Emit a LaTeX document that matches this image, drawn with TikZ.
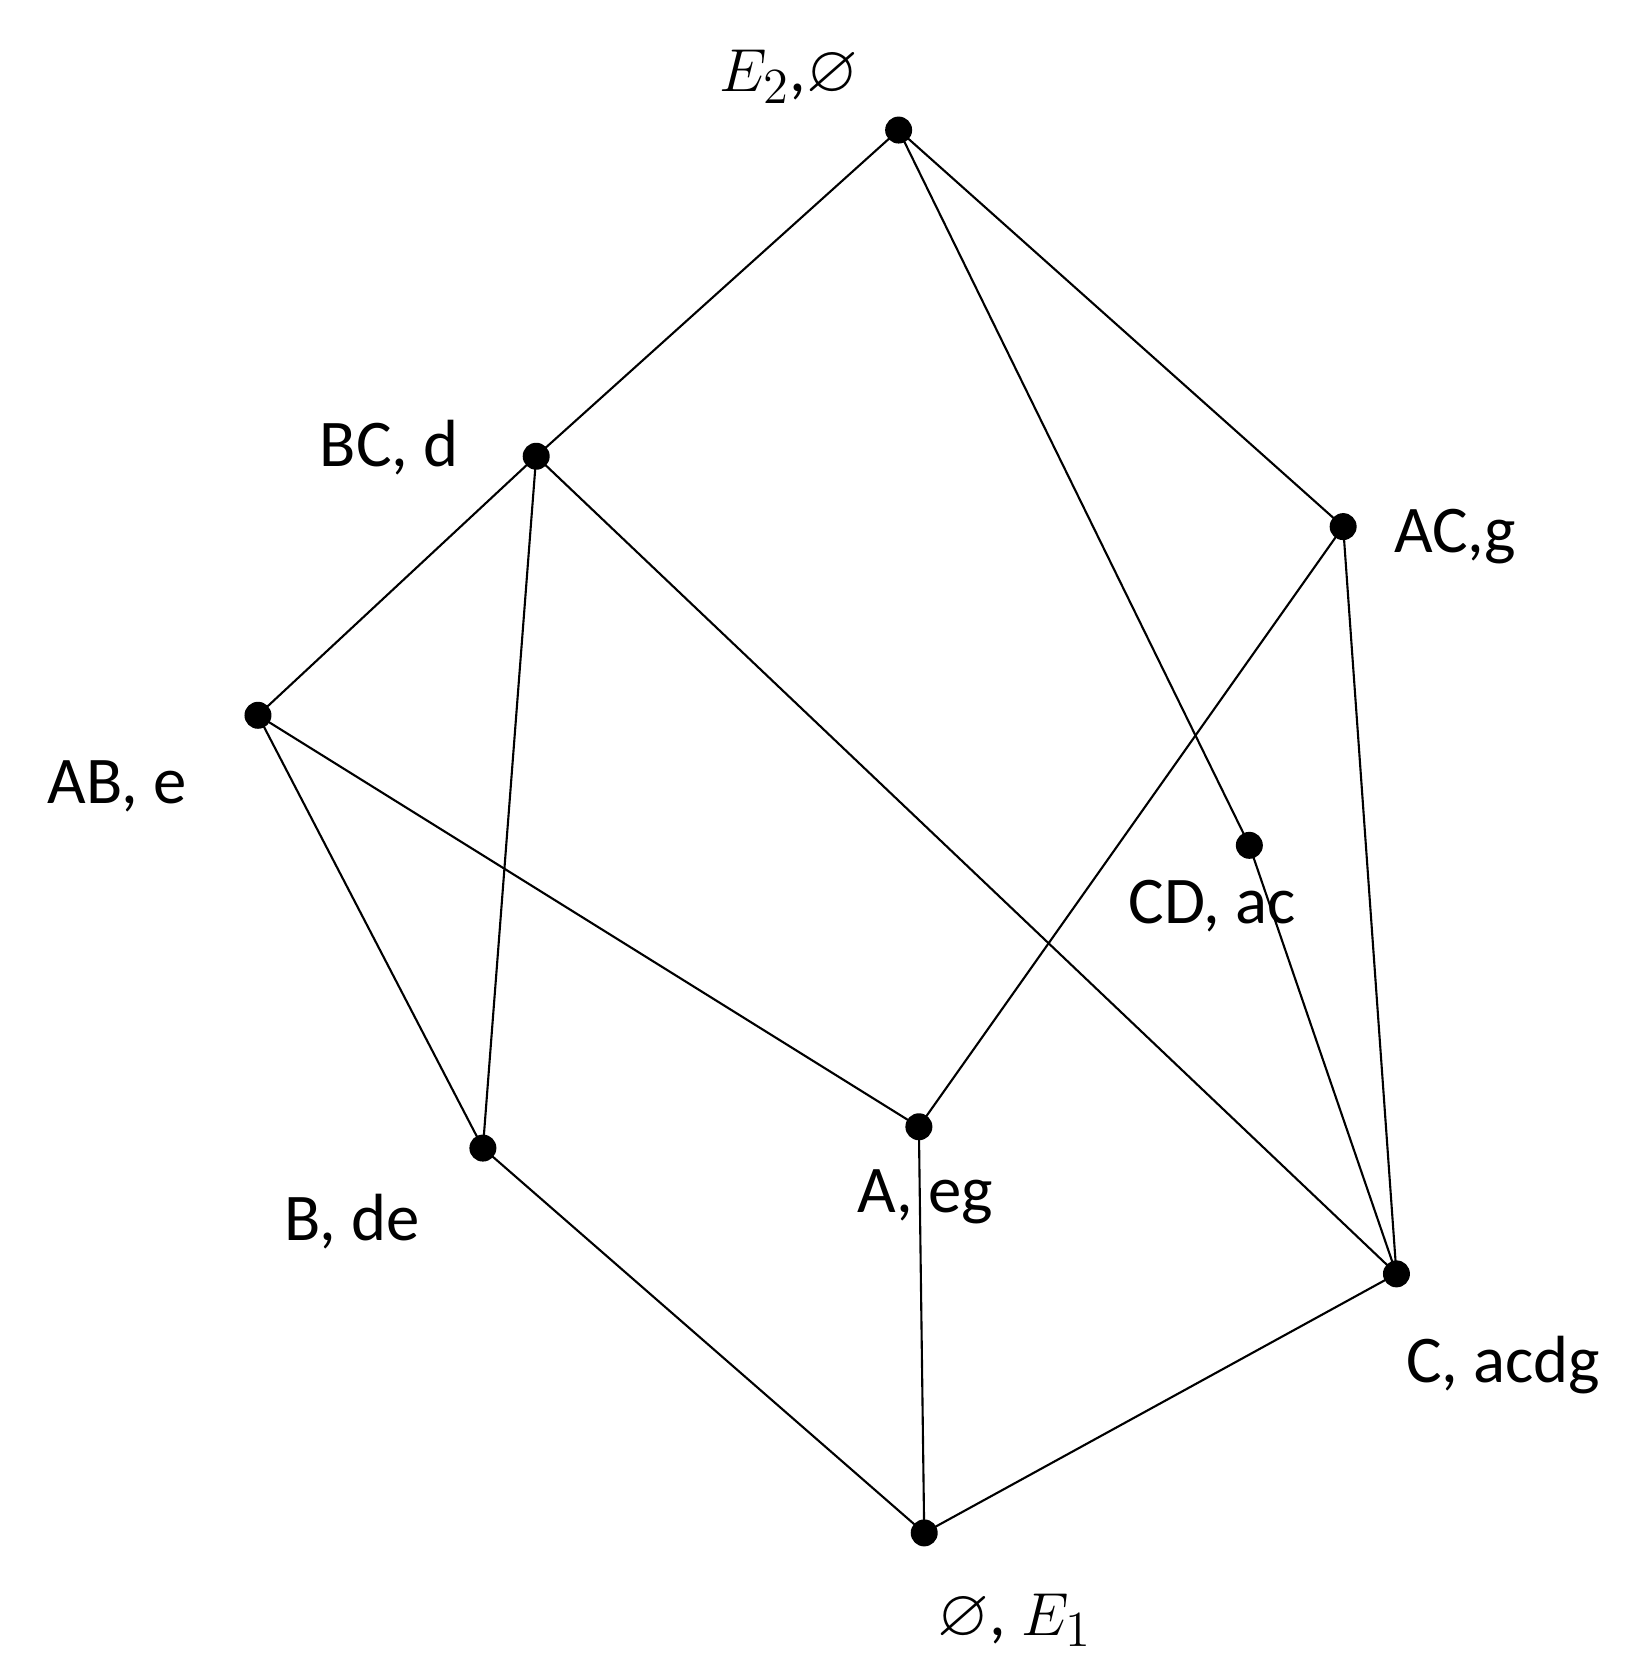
\documentclass[tikz,border=0pt]{standalone}
\usepackage{amssymb}
\usepackage{fontspec}
\setmainfont{Carlito}
\begin{document}
\begin{tikzpicture}[x=0.010660cm,y=-0.010660cm,
  dot/.style={circle,fill=black,inner sep=0pt,minimum size=0.27cm},
  lab/.style={font=\fontsize{19}{22}\selectfont},
  edge/.style={line width=0.6pt}]
\useasboundingbox (0,0) rectangle (1548.8,1568.5);
\node[dot] (E2) at (843,122) {};
\node[dot] (BC) at (503,428) {};
\node[dot] (AC) at (1260,494) {};
\node[dot] (AB) at (242,671) {};
\node[dot] (CD) at (1172,793) {};
\node[dot] (B) at (453,1077) {};
\node[dot] (A) at (862,1057) {};
\node[dot] (C) at (1310,1195) {};
\node[dot] (O) at (867,1438) {};
\node[lab] (lE2) at (740,72) {$E_2$,$\varnothing$};
\node[lab] (lBC) at (365,420) {BC, d};
\node[lab] (lAC) at (1365,503) {AC,g};
\node[lab] (lAB) at (110,738) {AB, e};
\node[lab] (lCD) at (1137,850) {CD, ac};
\node[lab] (lB) at (330,1146) {B, de};
\node[lab] (lA) at (868,1123) {A, eg};
\node[lab] (lC) at (1410,1281) {C, acdg};
\node[lab] (lO) at (952,1520) {$\varnothing$, $E_1$};
\foreach \a/\b in {E2/BC,E2/AC,E2/CD,BC/AB,BC/B,BC/C,AC/A,AC/C,AB/A,AB/B,CD/C,B/O,A/O,C/O}
  \draw[edge] (\a.center) -- (\b.center);
\end{tikzpicture}
\end{document}
